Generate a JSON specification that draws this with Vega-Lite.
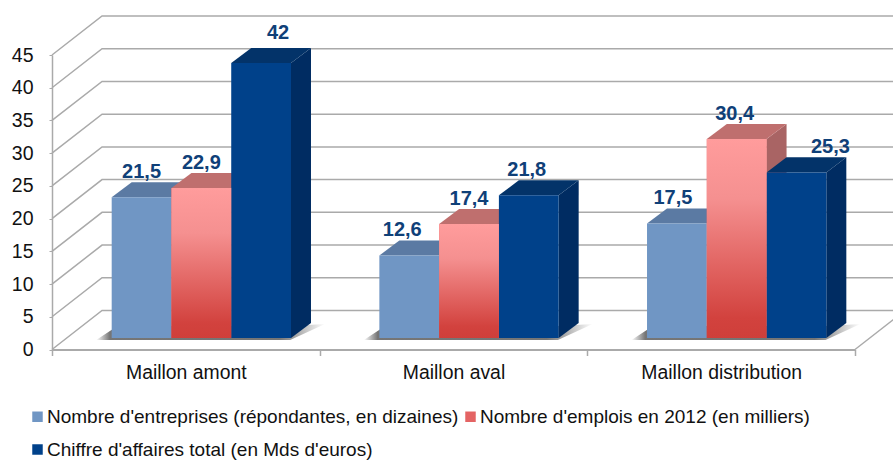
{
"$schema":"https://vega.github.io/schema/vega-lite/v6.json",
"width":803,"height":294.5,"autosize":{"type":"none"},
"padding":{"left":52,"top":55,"right":38,"bottom":110.5},
"background":"white",
"config":{"view":{"stroke":null},"font":"Liberation Sans"},
"datasets":{
"bars":[
{"maillon":"Maillon amont","serie":"Nombre d'entreprises (répondantes, en dizaines)","value":21.5},
{"maillon":"Maillon amont","serie":"Nombre d'emplois en 2012 (en milliers)","value":22.9},
{"maillon":"Maillon amont","serie":"Chiffre d'affaires total (en Mds d'euros)","value":42},
{"maillon":"Maillon aval","serie":"Nombre d'entreprises (répondantes, en dizaines)","value":12.6},
{"maillon":"Maillon aval","serie":"Nombre d'emplois en 2012 (en milliers)","value":17.4},
{"maillon":"Maillon aval","serie":"Chiffre d'affaires total (en Mds d'euros)","value":21.8},
{"maillon":"Maillon distribution","serie":"Nombre d'entreprises (répondantes, en dizaines)","value":17.5},
{"maillon":"Maillon distribution","serie":"Nombre d'emplois en 2012 (en milliers)","value":30.4},
{"maillon":"Maillon distribution","serie":"Chiffre d'affaires total (en Mds d'euros)","value":25.3}
],
"ticks":[{"v":0},{"v":5},{"v":10},{"v":15},{"v":20},{"v":25},{"v":30},{"v":35},{"v":40},{"v":45}]
},
"resolve":{"scale":{"color":"independent","fill":"independent"},"axis":{"x":"independent","y":"independent"}},
"layer":[
{"data":{"name":"ticks"},
 "transform":[{"calculate":"[0,1,2]","as":"p"},{"flatten":["p"]},
  {"calculate":"datum.p==0?0:(datum.p==1?0.187:3.187)","as":"gx"},
  {"calculate":"datum.p==0?datum.v:datum.v+5.96","as":"gy"}],
 "mark":{"type":"line","color":"#aaaaaa","strokeWidth":1.5},
 "encoding":{
  "x":{"field":"gx","type":"quantitative","scale":{"domain":[0,3],"nice":false,"zero":false},
   "axis":{"orient":"bottom","values":[0.5,1.5,2.5],"labelExpr":"['Maillon amont','Maillon aval','Maillon distribution'][floor(datum.value)]","ticks":false,"domain":false,"grid":false,"title":null,"labelFontSize":19.4,"labelColor":"#111111","labelPadding":14,"labelBaseline":"top"}},
  "y":{"field":"gy","type":"quantitative","scale":{"domain":[0,45],"nice":false},
   "axis":{"orient":"left","values":[0,5,10,15,20,25,30,35,40,45],"grid":false,"title":null,"domainColor":"#aaaaaa","domainWidth":1.5,"tickColor":"#aaaaaa","tickSize":3,"labelFontSize":19.5,"labelColor":"#111111","labelPadding":16}},
  "detail":{"field":"v"},"order":{"field":"p"}}},
{"data":{"name":"ticks"},
 "transform":[{"filter":"datum.v==0"},{"calculate":"[0,1]","as":"p"},{"flatten":["p"]},
  {"calculate":"3+datum.p*0.187","as":"gx"},{"calculate":"datum.p*5.96","as":"gy"}],
 "mark":{"type":"line","color":"#aaaaaa","strokeWidth":1.5},
 "encoding":{
  "x":{"field":"gx","type":"quantitative",
   "axis":{"orient":"bottom","values":[0,1,2,3],"labels":false,"grid":false,"title":null,"domainColor":"#aaaaaa","domainWidth":2,"tickColor":"#aaaaaa","tickSize":6,"tickWidth":1.5}},
  "y":{"field":"gy","type":"quantitative","axis":null},
  "order":{"field":"p"}}},
{"data":{"name":"bars"},
 "transform":[{"filter":"datum.serie=='Chiffre d\\'affaires total (en Mds d\\'euros)'"},
  {"calculate":"indexof(['Maillon amont','Maillon aval','Maillon distribution'],datum.maillon)","as":"g"},
  {"calculate":"[0,1,2,3]","as":"p"},{"flatten":["p"]},
  {"calculate":"[datum.g+0.165,datum.g+0.245,datum.g+0.89,datum.g+1.02][datum.p]","as":"sx"},
  {"calculate":"[1.45,3.6,3.6,3.9][datum.p]","as":"y1"},
  {"calculate":"[1.45,1.45,1.45,3.9][datum.p]","as":"y0"}],
 "mark":{"type":"area","opacity":0.9,"fill":{"gradient":"linear","x1":0,"x2":1,"y1":0,"y2":0,"stops":[{"offset":0,"color":"#ffffff"},{"offset":0.06,"color":"#666666"},{"offset":0.8,"color":"#666666"},{"offset":1,"color":"#ffffff"}]}},
 "encoding":{"x":{"field":"sx","type":"quantitative","axis":null},"y":{"field":"y0","type":"quantitative","axis":null},"y2":{"field":"y1"},"detail":{"field":"maillon"}}},
{"data":{"name":"bars"},
 "transform":[
  {"calculate":"indexof(['Maillon amont','Maillon aval','Maillon distribution'],datum.maillon)","as":"g"},
  {"calculate":"indexof(['Nombre d\\'entreprises (répondantes, en dizaines)','Nombre d\\'emplois en 2012 (en milliers)','Chiffre d\\'affaires total (en Mds d\\'euros)'],datum.serie)","as":"s"},
  {"calculate":"datum.g+0.223+0.2233*datum.s+0.2233","as":"R"},
  {"calculate":"[0,1,2,3]","as":"p"},{"flatten":["p"]},
  {"calculate":"datum.R+(datum.p>=2?0.0747:0)","as":"sx"},
  {"calculate":"(datum.p==1||datum.p==2?1.76+datum.value:1.76)+(datum.p>=2?2.3:0)","as":"sy"}],
 "mark":{"type":"line","strokeWidth":0},
 "encoding":{"x":{"field":"sx","type":"quantitative","axis":null},"y":{"field":"sy","type":"quantitative","axis":null},"detail":{"field":"maillon"},"order":{"field":"p"},
  "fill":{"field":"s","type":"ordinal","legend":null,"scale":{"domain":[0,1,2],"range":["#56749f","#a96464","#002c62"]}}}},
{"data":{"name":"bars"},
 "transform":[
  {"calculate":"indexof(['Maillon amont','Maillon aval','Maillon distribution'],datum.maillon)","as":"g"},
  {"calculate":"indexof(['Nombre d\\'entreprises (répondantes, en dizaines)','Nombre d\\'emplois en 2012 (en milliers)','Chiffre d\\'affaires total (en Mds d\\'euros)'],datum.serie)","as":"s"},
  {"calculate":"datum.g+0.223+0.2233*datum.s","as":"L"},
  {"calculate":"[0,1,2,3]","as":"p"},{"flatten":["p"]},
  {"calculate":"[datum.L,datum.L+0.0747,datum.L+0.2233,datum.L+0.298][datum.p]","as":"sx"},
  {"calculate":"1.76+datum.value","as":"T"},
  {"calculate":"datum.p==3?datum.T+2.3:datum.T","as":"y0"},
  {"calculate":"datum.p==0?datum.T:datum.T+2.3","as":"y1"}],
 "mark":{"type":"area"},
 "encoding":{"x":{"field":"sx","type":"quantitative","axis":null},"y":{"field":"y0","type":"quantitative","axis":null},"y2":{"field":"y1"},"detail":{"field":"maillon"},
  "color":{"field":"s","type":"ordinal","legend":null,"scale":{"domain":[0,1,2],"range":["#5b7aa3","#bf6f6e","#033369"]}}}},
{"data":{"name":"bars"},
 "transform":[
  {"calculate":"indexof(['Maillon amont','Maillon aval','Maillon distribution'],datum.maillon)","as":"g"},
  {"calculate":"indexof(['Nombre d\\'entreprises (répondantes, en dizaines)','Nombre d\\'emplois en 2012 (en milliers)','Chiffre d\\'affaires total (en Mds d\\'euros)'],datum.serie)","as":"s"},
  {"calculate":"datum.g+0.223+0.2233*datum.s","as":"L"},
  {"calculate":"datum.L+0.2233","as":"R"},
  {"calculate":"1.76+datum.value","as":"T"},
  {"calculate":"1.76","as":"B"}],
 "mark":{"type":"rect"},
 "encoding":{"x":{"field":"L","type":"quantitative","axis":null},"x2":{"field":"R"},"y":{"field":"B","type":"quantitative","axis":null},"y2":{"field":"T"},
  "color":{"field":"serie","type":"nominal","scale":{"domain":["Nombre d'entreprises (répondantes, en dizaines)","Nombre d'emplois en 2012 (en milliers)","Chiffre d'affaires total (en Mds d'euros)"],
   "range":["#7096c4","#e46464","#00418a"]},
   "legend":{"orient":"none","direction":"horizontal","legendX":-24,"legendY":352,"columns":2,"title":null,"symbolType":"square","symbolSize":110,"symbolStrokeWidth":0,"labelFontSize":19,"labelColor":"#111111","labelLimit":600,"rowPadding":13,"columnPadding":2,"labelOffset":0}}}},
{"data":{"name":"bars"},
 "transform":[
  {"filter":"datum.serie=='Nombre d\\'emplois en 2012 (en milliers)'"},
  {"calculate":"indexof(['Maillon amont','Maillon aval','Maillon distribution'],datum.maillon)","as":"g"},
  {"calculate":"datum.g+0.223+0.2233","as":"L"},
  {"calculate":"datum.L+0.2233","as":"R"},
  {"calculate":"1.76+datum.value","as":"T"},
  {"calculate":"1.76","as":"B"}],
 "mark":{"type":"rect","fill":{"gradient":"linear","x1":0,"y1":0,"x2":0,"y2":1,"stops":[{"offset":0,"color":"#ff9c9c"},{"offset":0.3,"color":"#f59090"},{"offset":0.9,"color":"#d2423e"},{"offset":1,"color":"#cf3f3a"}]}},
 "encoding":{"x":{"field":"L","type":"quantitative","axis":null},"x2":{"field":"R"},"y":{"field":"B","type":"quantitative","axis":null},"y2":{"field":"T"}}},
{"data":{"name":"bars"},
 "transform":[
  {"calculate":"indexof(['Maillon amont','Maillon aval','Maillon distribution'],datum.maillon)","as":"g"},
  {"calculate":"indexof(['Nombre d\\'entreprises (répondantes, en dizaines)','Nombre d\\'emplois en 2012 (en milliers)','Chiffre d\\'affaires total (en Mds d\\'euros)'],datum.serie)","as":"s"},
  {"calculate":"datum.g+0.223+0.2233*datum.s+0.11165+({'42':17,'25.3':34,'12.6':-7,'17.5':-4,'30.4':-2,'21.8':-2}[datum.value]||0)/267.7","as":"lx"},
  {"calculate":"1.76+datum.value+3.85+(datum.value==42?0.7:0)","as":"ly"},
  {"calculate":"replace(toString(datum.value),'.',',')","as":"txt"}],
 "mark":{"type":"text","fontSize":20,"fontWeight":"bold","color":"#0f4078","baseline":"middle","align":"center"},
 "encoding":{"x":{"field":"lx","type":"quantitative","axis":null},"y":{"field":"ly","type":"quantitative","axis":null},"text":{"field":"txt"}}}
]
}
